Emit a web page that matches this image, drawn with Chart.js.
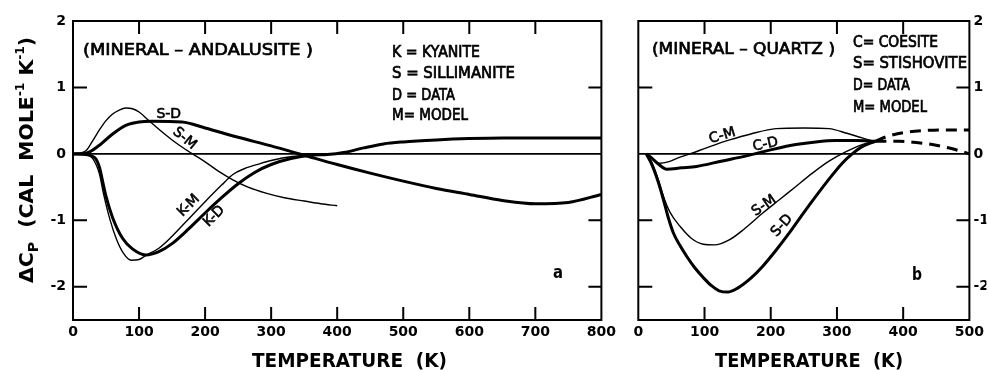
<!DOCTYPE html>
<html>
<head>
<meta charset="utf-8">
<script src="https://cdn.jsdelivr.net/npm/chart.js@4.4.1/dist/chart.umd.min.js"></script>
<style>
  html, body { margin: 0; padding: 0; background: #fff; }
  #wrap { position: relative; width: 988px; height: 370px; overflow: hidden; background: #fff; }
  canvas { position: absolute; top: 0; }
  #left { left: 0; }
  #right { left: 620px; }
</style>
</head>
<body>
<div id="wrap">
  <canvas id="left" width="620" height="370"></canvas>
  <canvas id="right" width="368" height="370"></canvas>
</div>
<script>
// ---- Panel a: mineral minus andalusite ----
const andTicksX = [0, 100, 200, 300, 400, 500, 600, 700, 800];
const cpTicksY = [-2, -1, 0, 1, 2];

const kyaniteDataT = [0, 20, 30, 35, 40, 45, 50, 60, 75, 90, 110, 130, 150, 175, 200, 225, 250, 275, 300, 330, 360, 385, 410, 440, 470, 500, 550, 600, 650, 700, 800];
const kyaniteDataV = [0, -0.01, -0.04, -0.08, -0.2, -0.42, -0.64, -0.96, -1.27, -1.43, -1.52, -1.47, -1.35, -1.13, -0.89, -0.66, -0.45, -0.28, -0.16, -0.07, -0.02, -0.01, 0.02, 0.09, 0.15, 0.18, 0.21, 0.23, 0.24, 0.24, 0.24];

const kyaniteModelT = [0, 20, 30, 40, 46, 56, 66, 76, 88, 100, 110, 130, 150, 175, 200, 225, 242, 260, 282, 300, 332, 360, 400];
const kyaniteModelV = [0, -0.01, -0.07, -0.3, -0.59, -0.99, -1.29, -1.49, -1.6, -1.59, -1.53, -1.42, -1.24, -0.98, -0.72, -0.47, -0.31, -0.22, -0.15, -0.1, -0.04, -0.02, 0];

const sillDataT = [0, 20, 40, 60, 80, 100, 120, 165, 200, 250, 300, 350, 400, 450, 500, 550, 600, 650, 700, 750, 800];
const sillDataV = [0, 0.01, 0.13, 0.3, 0.43, 0.48, 0.49, 0.48, 0.39, 0.25, 0.12, -0.02, -0.16, -0.29, -0.41, -0.52, -0.61, -0.7, -0.75, -0.73, -0.61];

const sillModelT = [0, 10, 20, 30, 40, 50, 60, 70, 80, 90, 100, 115, 130, 150, 170, 181, 200, 220, 242, 265, 292, 320, 350, 375, 400];
const sillModelV = [0, 0.01, 0.05, 0.2, 0.36, 0.5, 0.6, 0.66, 0.69, 0.68, 0.63, 0.5, 0.37, 0.21, 0.07, 0, -0.12, -0.26, -0.39, -0.5, -0.59, -0.66, -0.71, -0.75, -0.78];

// ---- Panel b: mineral minus quartz ----
const qtzTicksX = [0, 100, 200, 300, 400, 500];

const coesiteModelT = [12, 20, 32, 45, 60, 78, 108, 138, 170, 208, 250, 288, 315, 338, 358];
const coesiteModelV = [0, -0.06, -0.14, -0.12, -0.06, 0, 0.11, 0.21, 0.3, 0.38, 0.39, 0.38, 0.31, 0.24, 0.18];

const coesiteDataT = [12, 20, 30, 43, 65, 88, 125, 163, 200, 238, 268, 298, 330, 358];
const coesiteDataV = [0, -0.06, -0.15, -0.23, -0.21, -0.19, -0.11, -0.03, 0.06, 0.14, 0.18, 0.2, 0.2, 0.19];

const stishModelT = [12, 20, 30, 38, 48, 63, 80, 98, 115, 138, 160, 188, 213, 238, 263, 288, 313, 338, 358];
const stishModelV = [0, -0.12, -0.38, -0.64, -0.88, -1.09, -1.27, -1.36, -1.37, -1.29, -1.13, -0.89, -0.69, -0.49, -0.29, -0.11, 0.03, 0.14, 0.19];

const stishDataT = [12, 20, 30, 38, 45, 53, 63, 73, 85, 98, 110, 122, 135, 150, 170, 188, 208, 228, 248, 268, 288, 308, 323, 338, 358];
const stishDataV = [0, -0.15, -0.42, -0.69, -0.95, -1.19, -1.38, -1.54, -1.71, -1.86, -1.98, -2.06, -2.08, -2.02, -1.87, -1.69, -1.45, -1.19, -0.91, -0.64, -0.38, -0.14, 0.0, 0.11, 0.19];

const extrapUpperT = [358, 375, 400, 430, 460, 500];
const extrapUpperV = [0.19, 0.26, 0.32, 0.35, 0.36, 0.36];
const extrapLowerT = [358, 395, 420, 444, 473, 500];
const extrapLowerV = [0.19, 0.19, 0.17, 0.14, 0.08, 0.0];

const FONT = '"DejaVu Sans", "Liberation Sans", sans-serif';
const pts = (ts, vs) => ts.map((t, i) => ({ x: t, y: vs[i] }));

function line(ts, vs, width, dash) {
  return {
    data: pts(ts, vs),
    borderColor: '#000',
    borderWidth: width,
    borderDash: dash || [],
    pointRadius: 0,
    fill: false,
    cubicInterpolationMode: 'monotone',
    borderCapStyle: 'butt'
  };
}

// text squeezed/stretched to a given width, left aligned on its baseline
// weight 'bold' draws a heavy face; 'med' draws the book face with a thin outline
function fitText(ctx, s, x, y, w, size, weight) {
  ctx.save();
  const med = weight === 'med';
  ctx.font = `${med ? 'normal' : 'bold'} ${size}px ${FONT}`;
  ctx.textBaseline = 'alphabetic';
  ctx.textAlign = 'left';
  const m = ctx.measureText(s).width;
  ctx.translate(x, y);
  ctx.scale(w / m, 1);
  ctx.fillStyle = '#000';
  ctx.fillText(s, 0, 0);
  if (med) {
    ctx.strokeStyle = '#000';
    ctx.lineWidth = 0.7;
    ctx.strokeText(s, 0, 0);
  }
  ctx.restore();
}

function drawYTitle(ctx, bx, cy, len) {
  const parts = [
    { s: '\u0394C', size: 20, dy: 0 },
    { s: 'P', size: 14, dy: 5 },
    { s: '  (CAL  MOLE', size: 20, dy: 0 },
    { s: '-1', size: 12, dy: -9 },
    { s: ' K', size: 20, dy: 0 },
    { s: '-1', size: 12, dy: -9 },
    { s: ')', size: 20, dy: 0 }
  ];
  ctx.save();
  let total = 0;
  parts.forEach(p => { ctx.font = `bold ${p.size}px ${FONT}`; p.w = ctx.measureText(p.s).width; total += p.w; });
  ctx.translate(bx, cy);
  ctx.rotate(-Math.PI / 2);
  ctx.scale(len / total, 1);
  ctx.fillStyle = '#000';
  ctx.textBaseline = 'alphabetic';
  let x = -total / 2;
  parts.forEach(p => {
    ctx.font = `bold ${p.size}px ${FONT}`;
    ctx.fillText(p.s, x, p.dy);
    x += p.w;
  });
  ctx.restore();
}

function makeDecor(cfg) {
  return {
    id: 'decor',
    beforeDatasetsDraw(chart) {
      const { ctx, chartArea: a } = chart;
      const y0 = chart.scales.y.getPixelForValue(0);
      ctx.save();
      ctx.strokeStyle = '#000';
      ctx.lineWidth = 1.6;
      ctx.beginPath();
      ctx.moveTo(a.left, y0);
      ctx.lineTo(a.right, y0);
      ctx.stroke();
      ctx.restore();
    },
    afterDraw(chart) {
      const { ctx, chartArea: a } = chart;
      const xs = chart.scales.x, ys = chart.scales.y;
      const L = 13;
      ctx.save();
      ctx.strokeStyle = '#000';
      ctx.lineWidth = 2;
      ctx.strokeRect(a.left, a.top, a.right - a.left, a.bottom - a.top);
      ctx.beginPath();
      cfg.tickX.forEach(v => {
        const px = xs.getPixelForValue(v);
        ctx.moveTo(px, a.top); ctx.lineTo(px, a.top + L);
        ctx.moveTo(px, a.bottom); ctx.lineTo(px, a.bottom - L);
      });
      cfg.tickY.forEach(v => {
        const py = ys.getPixelForValue(v);
        ctx.moveTo(a.left, py); ctx.lineTo(a.left + L + 1, py);
        ctx.moveTo(a.right, py); ctx.lineTo(a.right - L, py);
      });
      ctx.stroke();
      ctx.restore();

      const off = cfg.offset;
      cfg.texts.forEach(t => fitText(ctx, t.s, t.x - off, t.y, t.w, t.size, t.weight));

      cfg.curveLabels.forEach(l => {
        ctx.save();
        ctx.translate(xs.getPixelForValue(l.t), ys.getPixelForValue(l.v));
        ctx.rotate(l.a * Math.PI / 180);
        ctx.font = `normal ${l.size}px ${FONT}`;
        ctx.textAlign = 'center';
        ctx.textBaseline = 'middle';
        ctx.fillStyle = '#000';
        ctx.strokeStyle = '#000';
        ctx.lineWidth = 0.6;
        ctx.fillText(l.s, 0, 0);
        ctx.strokeText(l.s, 0, 0);
        ctx.restore();
      });

      if (cfg.yTitle) drawYTitle(ctx, 33, 160, 246);
    }
  };
}

function baseOptions(xMax, xTicks, yPos, yWidth, padding) {
  return {
    responsive: false,
    animation: false,
    devicePixelRatio: 1,
    layout: { padding },
    plugins: { legend: { display: false }, tooltip: { enabled: false } },
    scales: {
      x: {
        type: 'linear', min: 0, max: xMax,
        grid: { display: false, drawTicks: false },
        border: { display: false },
        afterBuildTicks: s => { s.ticks = xTicks.map(v => ({ value: v })); },
        afterFit: s => { s.height = 50; },
        ticks: { color: '#000', padding: 4, maxRotation: 0, autoSkip: false, font: { family: FONT, size: 14, weight: 'bold' } }
      },
      y: {
        type: 'linear', min: -2.5, max: 2, position: yPos,
        grid: { display: false, drawTicks: false },
        border: { display: false },
        afterBuildTicks: s => { s.ticks = cpTicksY.map(v => ({ value: v })); },
        afterFit: s => { s.width = yWidth; },
        ticks: { color: '#000', padding: yPos === 'left' ? 7 : 4, font: { family: FONT, size: 14, weight: 'bold' } }
      }
    }
  };
}

new Chart(document.getElementById('left'), {
  type: 'line',
  data: {
    datasets: [
      line(sillModelT, sillModelV, 1.4),
      line(kyaniteModelT, kyaniteModelV, 1.4),
      line(sillDataT, sillDataV, 3),
      line(kyaniteDataT, kyaniteDataV, 3)
    ]
  },
  options: baseOptions(800, andTicksX, 'left', 73, { top: 21, right: 16, left: 0, bottom: 0 }),
  plugins: [makeDecor({
    offset: 0,
    yTitle: true,
    tickX: [100, 200, 300, 400, 500, 600, 700],
    tickY: [-2, -1, 1],
    texts: [
      { s: '(MINERAL \u2013 ANDALUSITE )', x: 83, y: 55, w: 230, size: 16, weight: 'med' },
      { s: 'K = KYANITE', x: 392, y: 57, w: 88, size: 15, weight: 'med' },
      { s: 'S = SILLIMANITE', x: 392, y: 78, w: 123, size: 15, weight: 'med' },
      { s: 'D = DATA', x: 392, y: 100, w: 63, size: 15, weight: 'med' },
      { s: 'M= MODEL', x: 392, y: 120, w: 76, size: 15, weight: 'med' },
      { s: 'a', x: 553, y: 278, w: 10, size: 18 },
      { s: 'TEMPERATURE  (K)', x: 252, y: 367, w: 195, size: 20 }
    ],
    curveLabels: [
      { s: 'S-D', t: 145, v: 0.59, a: 0, size: 14 },
      { s: 'S-M', t: 169, v: 0.23, a: 40, size: 14 },
      { s: 'K-M', t: 175, v: -0.78, a: -45, size: 14 },
      { s: 'K-D', t: 214, v: -0.94, a: -45, size: 14 }
    ]
  })]
});

new Chart(document.getElementById('right'), {
  type: 'line',
  data: {
    datasets: [
      line(coesiteModelT, coesiteModelV, 1.4),
      line(stishModelT, stishModelV, 1.4),
      line(coesiteDataT, coesiteDataV, 3),
      line(stishDataT, stishDataV, 3),
      line(extrapUpperT, extrapUpperV, 3, [11, 7]),
      line(extrapLowerT, extrapLowerV, 3, [11, 7])
    ]
  },
  options: baseOptions(500, qtzTicksX, 'right', 17, { top: 21, right: 0, left: 18.3, bottom: 0 }),
  plugins: [makeDecor({
    offset: 620,
    yTitle: false,
    tickX: [100, 200, 300, 400],
    tickY: [-2, -1, 1],
    texts: [
      { s: '(MINERAL \u2013 QUARTZ )', x: 652, y: 54, w: 183, size: 16, weight: 'med' },
      { s: 'C= COESITE', x: 853, y: 47, w: 85, size: 15, weight: 'med' },
      { s: 'S= STISHOVITE', x: 853, y: 68, w: 114, size: 15, weight: 'med' },
      { s: 'D= DATA', x: 853, y: 90, w: 57, size: 15, weight: 'med' },
      { s: 'M= MODEL', x: 853, y: 112, w: 74, size: 15, weight: 'med' },
      { s: 'b', x: 912, y: 280, w: 10, size: 18 },
      { s: 'TEMPERATURE  (K)', x: 715, y: 367, w: 188, size: 20 }
    ],
    curveLabels: [
      { s: 'C-M', t: 127, v: 0.27, a: -17, size: 14 },
      { s: 'C-D', t: 192, v: 0.14, a: -12, size: 14 },
      { s: 'S-M', t: 190, v: -0.78, a: -35, size: 14 },
      { s: 'S-D', t: 217, v: -1.08, a: -48, size: 14 }
    ]
  })]
});
</script>
</body>
</html>
